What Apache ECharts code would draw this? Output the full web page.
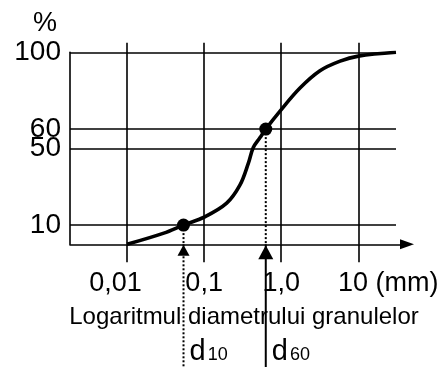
<!DOCTYPE html>
<html>
<head>
<meta charset="utf-8">
<style>
  html, body { margin: 0; padding: 0; background: #fff; }
  #chart { width: 447px; height: 367px; }
</style>
</head>
<body>
<div id="chart"></div>
<script src="https://cdn.jsdelivr.net/npm/echarts@6/dist/echarts.min.js"></script>
<script>
// curba granulometrica: diametru (mm, scara log) / procent trecere
const sizeTicks = [0.01, 0.1, 1, 10];
const sizeLabels = ['0,01', '0,1', '1,0', '10 (mm)'];
const percentTicks = [10, 50, 60, 100];

const curveSize = [0.01, 0.03, 0.054, 0.1, 0.196, 0.292, 0.374, 0.434, 0.531, 0.63, 0.964, 1.75, 3.18, 5.8, 10, 30.8];
const curvePercent = [0, 5.8, 10, 14.1, 21.4, 30.9, 42.1, 50.4, 55.6, 60, 69.4, 81.4, 90.4, 95.4, 98, 100];

const markNames = ['10', '60'];
const markSize = [0.054, 0.63];
const markPercent = [10, 60];

// axis ranges
const sizeMin = 0.00182;
const sizeMax = 30.8;
const sizeArrowMax = 42.8;
const percentBottom = -64; // arrows run off the bottom of the picture

const FONT = "'Liberation Sans', Arial, sans-serif";
const BLACK = '#000';

const chart = echarts.init(document.getElementById('chart'));

function nearestTick(v) {
    let best = 0;
    sizeTicks.forEach((t, i) => {
        if (Math.abs(Math.log10(t) - Math.log10(v)) < Math.abs(Math.log10(sizeTicks[best]) - Math.log10(v))) best = i;
    });
    return best;
}

const curveData = curveSize.map((s, i) => [s, curvePercent[i]]);

function dLabel(name) {
    return {
        show: true,
        distance: 6,
        offset: [0, -16],
        formatter: '{d|d}{s|' + name + '}',
        rich: {
            d: { fontSize: 29, fontFamily: FONT, color: BLACK, verticalAlign: 'bottom', lineHeight: 30 },
            s: { fontSize: 18, fontFamily: FONT, color: BLACK, verticalAlign: 'bottom', lineHeight: 30, padding: [0, 0, 2, 2] }
        }
    };
}

// linie punctata de la punct pana la axa
function guideLine(i) {
    return {
        name: 'd' + markNames[i] + ' ghid',
        type: 'line',
        clip: false,
        xAxisIndex: 0,
        yAxisIndex: 0,
        symbol: 'none',
        lineStyle: { color: BLACK, width: 2, type: [2, 2] },
        data: [[markSize[i], markPercent[i]], [markSize[i], 0]]
    };
}

// linia de sub axa, cu eticheta d10 / d60
function arrowLine(i, dashed) {
    return {
        name: 'd' + markNames[i],
        type: 'line',
        clip: false,
        xAxisIndex: 0,
        yAxisIndex: 0,
        symbol: 'none',
        lineStyle: { color: BLACK, width: 2, type: dashed ? [2, 2] : 'solid' },
        endLabel: dLabel(markNames[i]),
        data: [[markSize[i], 0], [markSize[i], percentBottom]],
        z: 4
    };
}

// varful sagetii, pe axa x
function arrowHead(i, size, offset) {
    return {
        name: 'sageata d' + markNames[i],
        type: 'scatter',
        clip: false,
        xAxisIndex: 0,
        yAxisIndex: 0,
        symbol: 'triangle',
        symbolSize: size,
        symbolOffset: offset,
        itemStyle: { color: BLACK, opacity: 1 },
        data: [[markSize[i], 0]],
        z: 7
    };
}

const option = {
    backgroundColor: '#fff',
    animation: false,
    grid: [
        // zona curbei si liniile orizontale
        { left: 70, right: 51, top: 52.3, bottom: 122.7 },
        // axa x cu sageata si liniile verticale
        { left: 70, right: 40, top: 42.7, bottom: 122.7 }
    ],
    xAxis: [
        {
            type: 'log',
            gridIndex: 0,
            min: sizeMin,
            max: sizeMax,
            axisLine: { show: false },
            axisTick: { show: false },
            axisLabel: { show: false },
            splitLine: { show: false }
        },
        {
            type: 'log',
            gridIndex: 1,
            min: sizeMin,
            max: sizeArrowMax,
            axisLine: {
                show: true,
                symbol: ['none', 'triangle'],
                symbolSize: [10, 14],
                lineStyle: { color: BLACK, width: 1.6 }
            },
            axisTick: {
                show: true,
                customValues: sizeTicks,
                length: 18,
                lineStyle: { color: BLACK, width: 1.6 }
            },
            axisLabel: {
                customValues: sizeTicks,
                margin: 26,
                color: BLACK,
                fontSize: 27,
                fontFamily: FONT,
                formatter(v) {
                    const i = nearestTick(v);
                    if (i === 0) return '{l|' + sizeLabels[i] + '}';
                    if (i === sizeTicks.length - 1) return '{r|' + sizeLabels[i] + '}';
                    return sizeLabels[i];
                },
                rich: {
                    l: { fontSize: 27, fontFamily: FONT, color: BLACK, padding: [0, 23, 0, 0] },
                    r: { fontSize: 27, fontFamily: FONT, color: BLACK, padding: [0, 0, 0, 60] }
                }
            },
            splitLine: { show: true, lineStyle: { color: BLACK, width: 1.6 } },
            name: 'Logaritmul diametrului granulelor',
            nameLocation: 'middle',
            nameGap: 61,
            nameTextStyle: { color: BLACK, fontSize: 24, fontFamily: FONT, padding: [0, 0, 0, 11] }
        }
    ],
    yAxis: [
        {
            type: 'value',
            gridIndex: 0,
            min: 0,
            max: 100,
            axisLine: { show: true, lineStyle: { color: BLACK, width: 1.6 } },
            axisTick: { show: false, customValues: percentTicks },
            axisLabel: {
                customValues: percentTicks,
                margin: 9,
                color: BLACK,
                fontSize: 28,
                fontFamily: FONT
            },
            splitLine: { show: true, lineStyle: { color: BLACK, width: 1.6 } },
            name: '%',
            nameLocation: 'end',
            nameGap: 15,
            nameTextStyle: { color: BLACK, fontSize: 27, fontFamily: FONT, padding: [0, 50, 0, 0] }
        },
        { type: 'value', gridIndex: 1, min: 0, max: 1, show: false }
    ],
    series: [
        {
            name: 'curba',
            type: 'line',
            xAxisIndex: 0,
            yAxisIndex: 0,
            data: curveData,
            smooth: 0.35,
            symbol: 'none',
            lineStyle: { color: BLACK, width: 3.6 },
            z: 5
        },
        guideLine(0),
        guideLine(1),
        arrowLine(0, true),
        arrowLine(1, false),
        arrowHead(0, [12, 11], [0, 6]),
        arrowHead(1, [15, 14], [0, 8]),
        {
            name: 'puncte',
            type: 'scatter',
            xAxisIndex: 0,
            yAxisIndex: 0,
            symbolSize: 13,
            itemStyle: { color: BLACK, opacity: 1 },
            data: markSize.map((s, i) => [s, markPercent[i]]),
            z: 6
        }
    ]
};

chart.setOption(option);
window.addEventListener('resize', () => chart.resize());
</script>
</body>
</html>
